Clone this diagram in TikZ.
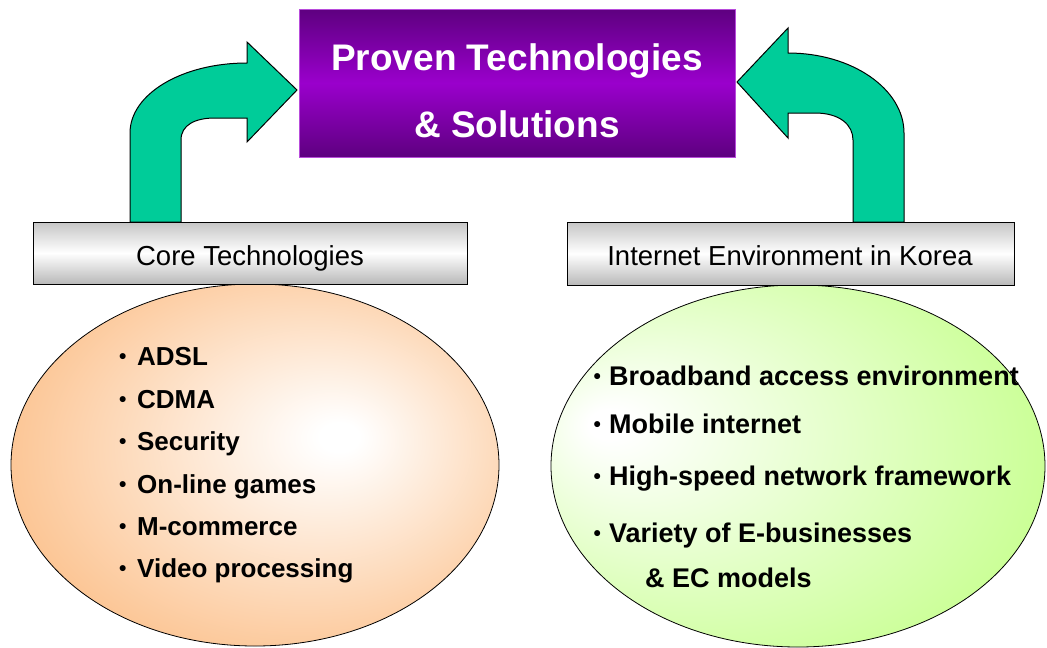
\documentclass[tikz,border=0pt]{standalone}
\usepackage{fontspec}
\setmainfont{Liberation Sans}
\definecolor{peach}{RGB}{252,196,146}
\definecolor{lime}{RGB}{200,255,145}
\definecolor{teal1}{RGB}{0,204,153}
\definecolor{purpdark}{RGB}{94,0,128}
\definecolor{purpmid}{RGB}{154,0,204}
\pgfdeclareradialshading{peachshade}{\pgfpoint{9bp}{4bp}}{color(0bp)=(white); color(2bp)=(white); color(30bp)=(peach); color(50bp)=(peach)}
\pgfdeclareradialshading{limeshade}{\pgfpoint{-20bp}{6bp}}{color(0bp)=(white); color(2bp)=(white); color(34bp)=(lime); color(50bp)=(lime)}
\newcommand{\bul}{\raisebox{1.5pt}{\fontsize{21}{21}\selectfont •}}
\tikzset{
  bararrow/.style={fill=teal1, draw=black, line width=1pt, line join=miter},
  barbox/.style={draw=black, line width=1pt, top color=gray!45, bottom color=gray!55, middle color=white},
  titlebox/.style={top color=purpdark, bottom color=purpdark, middle color=purpmid, draw=purpmid!70!white, line width=0.6pt},
  listtext/.style={anchor=base west, inner sep=0pt, font=\bfseries\fontsize{26}{26}\selectfont},
  listtextR/.style={anchor=base west, inner sep=0pt, font=\bfseries\fontsize{27}{27}\selectfont},
  bartext/.style={anchor=base, inner sep=0pt, font=\fontsize{27.5}{27.5}\selectfont},
  titletext/.style={anchor=base, inner sep=0pt, text=white, font=\bfseries\fontsize{37}{37}\selectfont},
}
\begin{document}
\begin{tikzpicture}[x=1pt,y=-1pt]
\useasboundingbox (0,0) rectangle (1047,648);
% ellipses
\path[shading=peachshade, draw=black, line width=0.8pt] (255,465) ellipse [x radius=244, y radius=181];
\path[shading=limeshade, draw=black, line width=0.8pt] (798,466) ellipse [x radius=247, y radius=181];
% arrows
\draw[bararrow] (130,222) -- (130,133) .. controls (130,94) and (182,63) .. (247,63)
  -- (247,42) -- (297,90) -- (247,142) -- (247,118) -- (215,118)
  .. controls (195,118) and (181,125) .. (181,140) -- (181,222) -- cycle;
\draw[bararrow] (904,222) -- (904,133) .. controls (904,89) and (852,53) .. (788,53)
  -- (788,28) -- (737,82) -- (788,138) -- (788,113) -- (815,113)
  .. controls (840,113) and (853,125) .. (853,140) -- (853,222) -- cycle;
% title
\path[titlebox] (299,9) rectangle (735,157);
\node[titletext] (t1) at (517,70) {Proven Technologies};
\node[titletext] (t2) at (517,137) {\& Solutions};
% bars
\path[barbox] (33,222) rectangle (467,284);
\path[barbox] (567,222) rectangle (1014,285);
\node[bartext] (core) at (250,265) {Core Technologies};
\node[bartext] (inet) at (790,265) {Internet Environment in Korea};
% left list
\node[listtext] (l1) at (119,365) {\bul\hspace{10.6pt}ADSL};
\node[listtext] (l2) at (119,408) {\bul\hspace{10.6pt}CDMA};
\node[listtext] (l3) at (119,450) {\bul\hspace{10.6pt}Security};
\node[listtext] (l4) at (119,493) {\bul\hspace{10.6pt}On-line games};
\node[listtext] (l5) at (119,535) {\bul\hspace{10.6pt}M-commerce};
\node[listtext] (l6) at (119,577) {\bul\hspace{10.6pt}Video processing};
% right list
\node[listtextR] (r1) at (593.3,385) {\bul\hspace{8.3pt}Broadband access environment};
\node[listtextR] (r2) at (593.3,433) {\bul\hspace{8.3pt}Mobile internet};
\node[listtextR] (r3) at (593.3,485) {\bul\hspace{8.3pt}High-speed network framework};
\node[listtextR] (r4) at (593.3,542) {\bul\hspace{8.3pt}Variety of E-businesses};
\node[listtextR] (r5) at (645,587) {\& EC models};
\end{tikzpicture}
\end{document}
